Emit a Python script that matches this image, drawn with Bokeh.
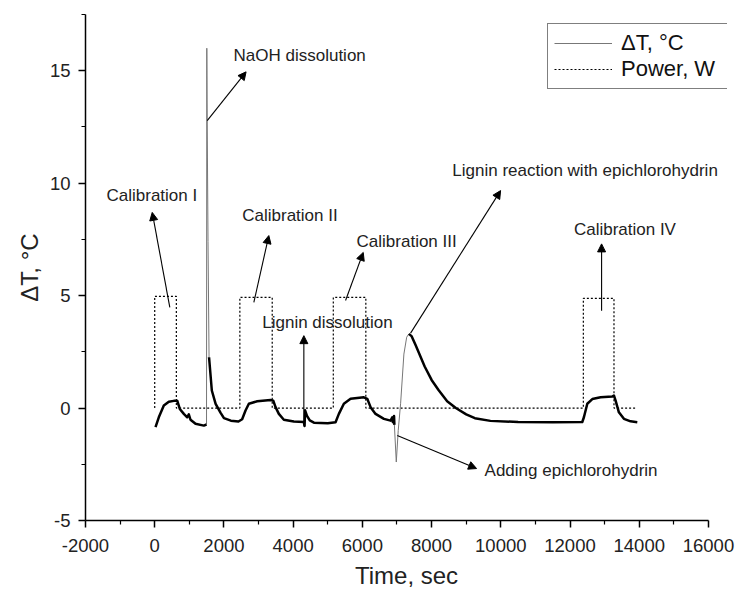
import math
from bokeh.plotting import figure
from bokeh.models import (Range1d, Arrow, NormalHead, Label, Legend, LegendItem,
                          FixedTicker)
from bokeh.embed import file_html
from bokeh.resources import INLINE

# ---------------- data ----------------
# Temperature difference trace (time in s, dT in degC)
dT_time = [23, 118, 263, 407, 552, 650, 725, 841, 939, 985, 1034, 1179, 1419, 1497,
           1505, 1512, 1540, 1570,
           1650, 1760, 1900, 2000, 2200, 2420, 2526, 2624, 2720, 2962, 3347, 3425,
           3491, 3587, 3731, 4020, 4309,
           4330, 4345, 4400, 4480, 4600, 5000, 5225, 5321, 5465, 5659, 6043, 6141,
           6237, 6381, 6622, 6815, 6864, 6880, 6905, 6915, 6925,
           6980, 7036, 7104, 7200, 7280, 7344,
           7420, 7537, 7800, 8000, 8200, 8450, 8700, 9000, 9250, 9700, 10500,
           11500, 12354, 12401, 12499, 12644, 12884, 13222, 13268, 13317, 13412,
           13557, 13750, 13944]
dT_value = [-0.85, -0.41, 0.11, 0.28, 0.32, 0.33, -0.04, -0.26, -0.41, -0.28, -0.52, -0.70, -0.78, -0.73,
            16.0, 13.7, 7.4, 2.26,
            0.78, 0.19, -0.20, -0.45, -0.56, -0.60, -0.50, -0.11, 0.19, 0.30, 0.36, 0.33,
            0.04, -0.26, -0.52, -0.60, -0.62,
            -0.80, -0.10, -0.35, -0.55, -0.65, -0.68, -0.63, -0.26, 0.19, 0.41, 0.48, 0.41,
            0.04, -0.26, -0.48, -0.56, -0.41, -0.63, -0.60, -0.35, -0.75,
            -2.40, -1.00, 0.19, 2.40, 3.15, 3.30,
            3.20, 2.80, 1.85, 1.25, 0.80, 0.30, 0.00, -0.28, -0.45, -0.57, -0.62,
            -0.63, -0.62, -0.41, 0.19, 0.40, 0.48, 0.51, 0.56, 0.33, -0.19,
            -0.48, -0.59, -0.63]
# fast transients (drawn as a thin line): NaOH spike and epichlorohydrin addition
fast_windows = [(1497, 1570), (6925, 7344)]

# Heater power (time in s, power in W)
power_time = [0, 0, 625, 625, 2460, 2460, 3395, 3395, 5160, 5160, 6100, 6100,
              12385, 12385, 13270, 13270, 13900]
power_value = [0, 4.97, 4.97, 0, 0, 4.92, 4.92, 0, 0, 4.92, 4.92, 0,
               0, 4.88, 4.88, 0, 0]

x_ticks = [-2000, 0, 2000, 4000, 6000, 8000, 10000, 12000, 14000, 16000]
x_minor = [-1000, 1000, 3000, 5000, 7000, 9000, 11000, 13000, 15000]
y_ticks = [-5, 0, 5, 10, 15]
y_minor = [-2.5, 2.5, 7.5, 12.5, 17.5]

# annotations: text, text x, text y, arrow tail (x, y), arrow head (x, y)
annotations = [
    ("Calibration I", -1393, 9.44, (436, 4.48), (-72, 8.70)),
    ("NaOH dissolution", 2277, 15.67, (1517, 12.78), (2640, 14.95)),
    ("Calibration II", 2529, 8.56, (2864, 4.70), (3297, 7.67)),
    ("Calibration III", 5832, 7.42, (5514, 4.78), (6025, 6.92)),
    ("Lignin dissolution", 3107, 3.81, (4309, -0.78), (4309, 3.22)),
    ("Lignin reaction with epichlorohydrin", 8598, 10.56, (7393, 3.33), (9994, 9.67)),
    ("Calibration IV", 12112, 7.93, (12912, 4.33), (12912, 7.30)),
    ("Adding epichlorohydrin", 9531, -2.78, (7008, -1.22), (9300, -2.69)),
]

# ---------------- split the trace into thick / thin runs ----------------
def split_runs(t, v, windows):
    thick_x, thick_y, thin_x, thin_y = [], [], [], []
    last = {"thick": None, "thin": None}
    for i in range(len(t) - 1):
        fast = any(a <= t[i] and t[i + 1] <= b for a, b in windows)
        key = "thin" if fast else "thick"
        xs, ys = (thin_x, thin_y) if fast else (thick_x, thick_y)
        if last[key] != i:
            if xs:
                xs.append(math.nan)
                ys.append(math.nan)
            xs.append(t[i])
            ys.append(v[i])
        xs.append(t[i + 1])
        ys.append(v[i + 1])
        last[key] = i + 1
    return thick_x, thick_y, thin_x, thin_y

thick_x, thick_y, thin_x, thin_y = split_runs(dT_time, dT_value, fast_windows)

FONT = "Liberation Sans"

# frame: x 85..727 px, y 14..520 px; x axis drawn only up to 16000
p = figure(width=735, height=595,
           x_range=Range1d(-2000, 16550), y_range=Range1d(-5, 17.5),
           output_backend="svg", toolbar_location=None,
           min_border_left=85, min_border_right=8, min_border_top=14,
           min_border_bottom=75)
p.xgrid.visible = False
p.ygrid.visible = False
p.outline_line_color = None
p.background_fill_color = "white"
p.border_fill_color = "white"

power_r = p.line(power_time, power_value, line_color="black", line_width=1.2,
                 line_dash="2 2")
thin_r = p.line(thin_x, thin_y, line_color="#777777", line_width=1)
p.line(thick_x, thick_y, line_color="black", line_width=2.5, line_join="round")

for ax in (p.xaxis[0], p.yaxis[0]):
    ax.axis_line_color = "black"
    ax.axis_line_width = 1.5
    ax.major_tick_line_color = "black"
    ax.major_tick_line_width = 1.5
    ax.minor_tick_line_color = "black"
    ax.minor_tick_line_width = 1.2
    ax.major_tick_in = 0
    ax.major_tick_out = 7
    ax.minor_tick_in = 0
    ax.minor_tick_out = 4
    ax.major_label_text_font = FONT
    ax.major_label_text_font_size = "18.5px"
    ax.major_label_text_color = "#222222"
    ax.axis_label_text_font = FONT
    ax.axis_label_text_font_size = "24px"
    ax.axis_label_text_font_style = "normal"
    ax.axis_label_text_color = "#222222"

p.xaxis.bounds = (-2000, 16000)
p.xaxis.ticker = FixedTicker(ticks=x_ticks, minor_ticks=x_minor)
p.yaxis.ticker = FixedTicker(ticks=y_ticks, minor_ticks=y_minor)
p.xaxis.major_label_overrides = {t: str(t) for t in x_ticks}
p.yaxis.major_label_overrides = {t: str(t) for t in y_ticks}
p.xaxis.axis_label = "Time, sec"
p.yaxis.axis_label = "ΔT, °C"
p.xaxis.major_label_standoff = 11
p.yaxis.major_label_standoff = 8
p.xaxis.axis_label_standoff = 7
p.yaxis.axis_label_standoff = 4

for text, tx, ty, (x0, y0), (x1, y1) in annotations:
    p.add_layout(Arrow(end=NormalHead(size=8, fill_color="black", line_color="black",
                                      line_width=1),
                       x_start=x0, y_start=y0, x_end=x1, y_end=y1,
                       line_color="black", line_width=1.1))
    p.add_layout(Label(x=tx, y=ty, text=text, text_font=FONT, text_font_size="17px",
                       text_color="#222222", text_baseline="middle", text_align="left"))

legend = Legend(items=[LegendItem(label="ΔT, °C", renderers=[thin_r]),
                       LegendItem(label="Power, W", renderers=[power_r])],
                location=(462, 431), margin=0, padding=6, spacing=0,
                glyph_width=58, glyph_height=22, label_height=22, label_standoff=9,
                label_width=101,
                label_text_font=FONT, label_text_font_size="22px",
                label_text_color="#111111",
                border_line_color="black", border_line_width=1.2,
                background_fill_alpha=1.0)
p.add_layout(legend)

open("out.html", "w").write(file_html(p, INLINE))
